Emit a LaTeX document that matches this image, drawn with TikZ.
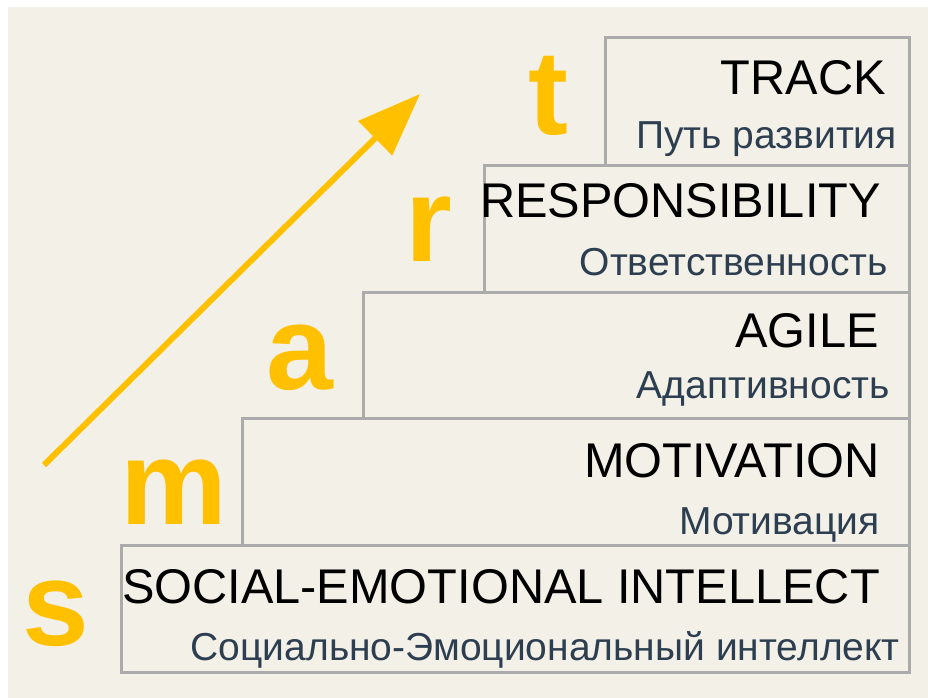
\documentclass[tikz,border=0pt]{standalone}
\usepackage{fontspec}
\setmainfont{Liberation Sans}
\usetikzlibrary{arrows.meta}
\definecolor{paper}{HTML}{F3F0E8}
\definecolor{gold}{HTML}{FFC000}
\definecolor{frame}{HTML}{ABABAB}
\definecolor{slate}{HTML}{2C3E50}
\tikzset{
	stair/.style={draw=frame, line width=3pt},
	title/.style={anchor=base east, inner sep=0pt, font=\fontsize{48.7}{48.7}\selectfont},
	sub/.style={anchor=base east, inner sep=0pt, text=slate, font=\fontsize{39}{39}\selectfont},
	letter/.style={anchor=base west, inner sep=0pt, text=gold, font=\fontsize{120}{120}\selectfont\bfseries}
}
\begin{document}
\begin{tikzpicture}[x=1pt, y=-1pt, line join=miter]
				\useasboundingbox (0,0) rectangle (928,698);
				\fill [white] (0,0) rectangle (928,698);
				\fill [paper] (8,7) rectangle (928,698);
				\def\xr{909}
				% steps, from the top one down
				\draw [stair] (605,38) rectangle (\xr,165);
				\draw [stair] (484,165) rectangle (\xr,292);
				\draw [stair] (363,292) rectangle (\xr,418);
				\draw [stair] (242,418) rectangle (\xr,545);
				\draw [stair] (121,545) rectangle (\xr,672);
				\node [title] (track) at (886,95) {TRACK};
				\node [sub] (trackru) at (897,148) {Путь развития};
				\node [title] (resp) at (881,217) {RESPONSIBILITY};
				\node [sub] (respru) at (888,275) {Ответственность};
				\node [title] (agile) at (879,347) {AGILE};
				\node [sub] (agileru) at (890,398) {Адаптивность};
				\node [title] (motiv) at (880,477) {MOTIVATION};
				\node [sub] (motivru) at (880,534) {Мотивация};
				\node [title] (social) at (880,603) {SOCIAL-EMOTIONAL INTELLECT};
				\node [sub] (socialru) at (900,660) {Социально-Эмоциональный интеллект};
				% letters
				\node [letter] (s) at (22,645) {s};
				\node [letter] (m) at (120,524) {m};
				\node [letter] (a) at (266,389) {a};
				\node [letter] (r) at (405,261) {r};
				\node [letter] (t) at (528,134) {t};
				\coordinate (tail) at (44,465);
				\coordinate (head) at (420,94);
				\draw [gold, line width=6pt, -{Triangle[length=63pt, width=47pt]}] (tail) -- (head);
			\end{tikzpicture}
\end{document}
